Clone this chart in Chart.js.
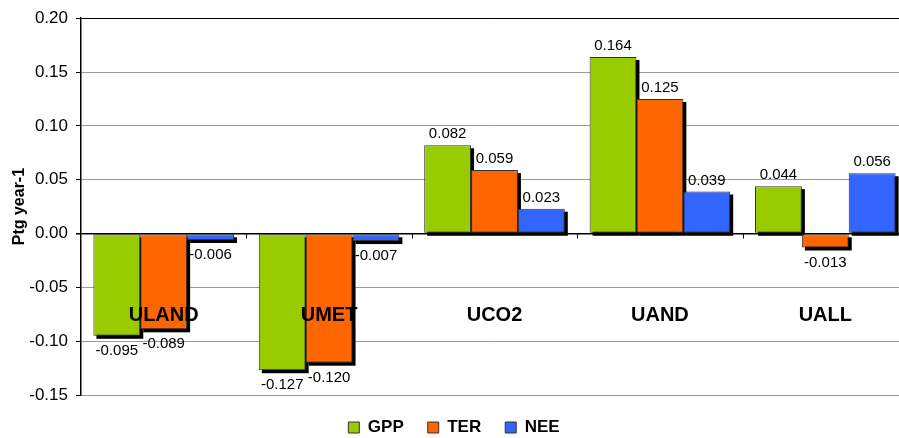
<!DOCTYPE html>
<html>
<head>
<meta charset="utf-8">
<script src="https://cdn.jsdelivr.net/npm/chart.js@4"></script>
<style>
  html, body { margin: 0; padding: 0; background: #fff; overflow: hidden; }
  #wrap { width: 909px; height: 438px; }
</style>
</head>
<body>
<div id="wrap"><canvas id="fluxChart"></canvas></div>
<script>
var experiments = ['ULAND', 'UMET', 'UCO2', 'UAND', 'UALL'];
var gpp = [-0.095, -0.127, 0.082, 0.164, 0.044];
var ter = [-0.089, -0.120, 0.059, 0.125, -0.013];
var nee = [-0.006, -0.007, 0.023, 0.039, 0.056];
var yTicks = [-0.15, -0.10, -0.05, 0.00, 0.05, 0.10, 0.15, 0.20];

var FONT = '"Liberation Sans", Arial, sans-serif';

// black drop shadow behind every bar
var shadowPlugin = {
    id: 'barShadow',
    beforeDatasetsDraw: function(chart) {
        var ctx = chart.ctx;
        ctx.save();
        ctx.fillStyle = '#000';
        chart.data.datasets.forEach(function(ds, i) {
            chart.getDatasetMeta(i).data.forEach(function(bar) {
                var top = Math.min(bar.y, bar.base);
                var h = Math.abs(bar.base - bar.y);
                ctx.fillRect(bar.x - bar.width / 2 + 3, top + 3, bar.width, h);
            });
        });
        ctx.restore();
    }
};

// value labels, category names inside plot, tick marks on zero line
var labelPlugin = {
    id: 'barLabels',
    afterDatasetsDraw: function(chart) {
        var ctx = chart.ctx;
        var xs = chart.scales.x, ys = chart.scales.y;
        var zero = ys.getPixelForValue(0);
        ctx.save();
        ctx.fillStyle = '#000';
        ctx.font = '15px ' + FONT;
        ctx.textAlign = 'center';
        ctx.textBaseline = 'alphabetic';
        chart.data.datasets.forEach(function(ds, i) {
            chart.getDatasetMeta(i).data.forEach(function(bar, j) {
                var v = ds.data[j];
                if (v >= 0) {
                    ctx.fillText(v.toFixed(3), bar.x, bar.y - 7);
                } else {
                    ctx.fillText(v.toFixed(3), bar.x, bar.y + 19);
                }
            });
        });
        ctx.font = 'bold 20px ' + FONT;
        ctx.textBaseline = 'middle';
        experiments.forEach(function(name, j) {
            ctx.fillText(name, xs.getPixelForValue(j), ys.getPixelForValue(-0.076));
        });
        ctx.strokeStyle = '#000';
        ctx.lineWidth = 1;
        ctx.beginPath();
        for (var k = 1; k < experiments.length; k++) {
            var px = Math.round((xs.getPixelForValue(k - 1) + xs.getPixelForValue(k)) / 2) + 0.5;
            ctx.moveTo(px, zero);
            ctx.lineTo(px, zero + 5);
        }
        ctx.stroke();
        ctx.restore();
    }
};

var ctx = document.getElementById('fluxChart').getContext('2d');
var fluxChart = new Chart(ctx, {
    type: 'bar',
    data: {
        labels: experiments,
        datasets: [
            { label: 'GPP', data: gpp, backgroundColor: '#99CC00' },
            { label: 'TER', data: ter, backgroundColor: '#FF6600' },
            { label: 'NEE', data: nee, backgroundColor: '#3366FF' }
        ]
    },
    options: {
        responsive: true,
        maintainAspectRatio: false,
        animation: false,
        datasets: {
            bar: {
                barPercentage: 1,
                categoryPercentage: 0.85,
                borderColor: '#333',
                borderWidth: 1,
                borderSkipped: false
            }
        },
        layout: { padding: { top: 17, right: 1, left: 0, bottom: -8 } },
        plugins: {
            tooltip: { enabled: false },
            legend: {
                position: 'bottom',
                labels: {
                    font: { family: FONT, size: 17, weight: 'bold' },
                    color: '#000',
                    boxWidth: 11,
                    boxHeight: 11,
                    padding: 24,
                    generateLabels: function(chart) {
                        return chart.data.datasets.map(function(ds, i) {
                            return {
                                text: ds.label,
                                fillStyle: ds.backgroundColor,
                                strokeStyle: '#333',
                                lineWidth: 1,
                                datasetIndex: i
                            };
                        });
                    }
                }
            }
        },
        scales: {
            x: {
                display: false
            },
            y: {
                min: -0.15,
                max: 0.20,
                afterBuildTicks: function(scale) {
                    scale.ticks = yTicks.map(function(v) { return { value: v }; });
                },
                afterFit: function(scale) { scale.width = 81; },
                border: { display: true, color: '#000', width: 1.5 },
                grid: {
                    color: function(c) {
                        if (c.tick && Math.abs(c.tick.value) < 1e-9) return '#000';
                        if (c.tick && c.tick.value > 0.19) return '#000';
                        return '#999';
                    },
                    lineWidth: function(c) {
                        return (c.tick && Math.abs(c.tick.value) < 1e-9) ? 1.5 : 1;
                    },
                    tickColor: '#000',
                    tickLength: 5
                },
                ticks: {
                    color: '#000',
                    padding: 8,
                    font: { family: FONT, size: 17 },
                    callback: function(v) { return Number(v).toFixed(2); }
                },
                title: {
                    display: true,
                    text: 'Ptg year-1',
                    color: '#000',
                    padding: { top: 10, bottom: 0 },
                    font: { family: FONT, size: 16, weight: 'bold' }
                }
            }
        }
    },
    plugins: [shadowPlugin, labelPlugin]
});
</script>
</body>
</html>
